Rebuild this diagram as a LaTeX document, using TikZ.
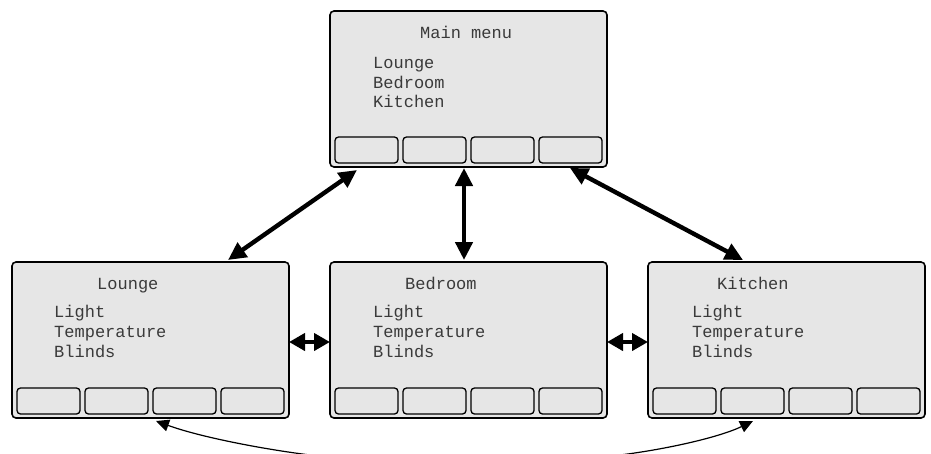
\documentclass[tikz,border=0pt]{standalone}
\usepackage{fontspec}
\setmonofont{Liberation Mono}
\usetikzlibrary{arrows.meta}
\definecolor{screenfill}{HTML}{E6E6E6}
\definecolor{txt}{HTML}{3A3A3A}
\tikzset{
  screen/.style={draw=black, line width=1.6pt, fill=screenfill, rounded corners=4pt,
    minimum width=277pt, minimum height=156pt, anchor=north west, inner sep=0pt, outer sep=0pt},
  softkey/.style={draw=black, line width=1.3pt, fill=screenfill, rounded corners=3.5pt,
    minimum width=63pt, minimum height=26pt, anchor=north west, inner sep=0pt, outer sep=0pt},
  menutext/.style={anchor=base west, inner sep=0pt, font=\ttfamily\fontsize{17}{20}\selectfont, text=txt},
  bigarrow/.style={line width=4.4pt, {Triangle[length=18pt,width=17pt]}-{Triangle[length=18pt,width=17pt]}},
  smallarrow/.style={line width=4.4pt, {Triangle[length=16pt,width=17pt]}-{Triangle[length=16pt,width=17pt]}},
  curvearrow/.style={line width=1.2pt, -{Triangle[length=13pt,width=12pt]}}
}
\begin{document}
\begin{tikzpicture}[x=1pt,y=-1pt]
\useasboundingbox (0,0) rectangle (931,453);
\clip (0,0) rectangle (931,453);
\foreach \n/\x/\y in {main/330/11, lounge/12/262, bedroom/330/262, kitchen/648/262}{
  \node[screen] (\n) at (\x,\y) {};
  \foreach \i/\dx in {1/5,2/73,3/141,4/209}
    \node[softkey] (\n-b\i) at (\x+\dx,\y+126) {};
}
% texts
\node[menutext] (mt) at (420,38) {Main menu};
\node[menutext] (m1) at (373,68) {Lounge};
\node[menutext] (m2) at (373,88) {Bedroom};
\node[menutext] (m3) at (373,107) {Kitchen};
\foreach \n/\tx/\ix/\t in {lounge/97/54/Lounge, bedroom/405/373/Bedroom, kitchen/717/692/Kitchen}{
  \node[menutext] (\n-t) at (\tx,289) {\t};
  \node[menutext] (\n-1) at (\ix,317) {Light};
  \node[menutext] (\n-2) at (\ix,337) {Temperature};
  \node[menutext] (\n-3) at (\ix,357) {Blinds};
}
% arrow endpoints
\coordinate (mlA) at (357,170);
\coordinate (mlB) at (228,260);
\coordinate (mbA) at (464,168);
\coordinate (mbB) at (464,260);
\coordinate (mkA) at (570,168);
\coordinate (mkB) at (743,260);
\draw[bigarrow] (mlA) -- (mlB);
\draw[bigarrow] (mbA) -- (mbB);
\draw[bigarrow] (mkA) -- (mkB);
\coordinate (lbA) at (289,342);
\coordinate (lbB) at (330,342);
\coordinate (bkA) at (607,342);
\coordinate (bkB) at (648,342);
\draw[smallarrow] (lbA) -- (lbB);
\draw[smallarrow] (bkA) -- (bkB);
% bottom curves
\coordinate (cl) at (310,455);
\coordinate (clT) at (156,421);
\coordinate (cr) at (620,455);
\coordinate (crT) at (753,421);
\draw[curvearrow] (cl) .. controls (262,449) and (200,437) .. (clT);
\draw[curvearrow] (cr) .. controls (668,449) and (720,437) .. (crT);
\end{tikzpicture}
\end{document}
